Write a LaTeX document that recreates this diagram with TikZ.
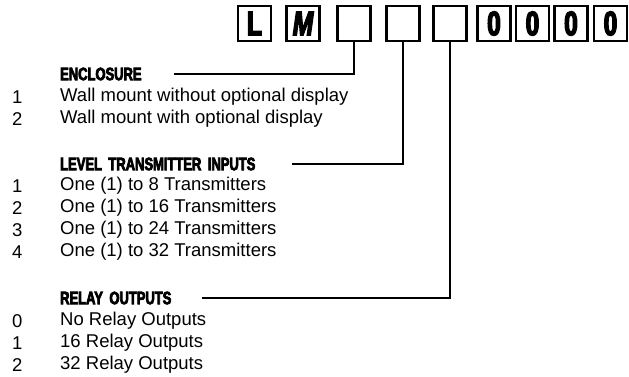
\documentclass[tikz,border=0pt]{standalone}
\usepackage{fontspec}
\setmainfont{Liberation Sans}
\newfontfamily\titfont[FakeStretch=0.72,FakeBold=4]{Liberation Sans}
\newcommand\titletra{\titfont\bfseries\fontsize{18}{20}\selectfont\spaceskip=6.5pt\relax}

\tikzset{
  caja/.style={draw,line width=2.4pt,minimum width=33pt,minimum height=35pt,inner sep=0pt,
    font=\titfont\bfseries\fontsize{34}{34}\selectfont},
  titulo/.style={anchor=west,inner sep=0pt,font=\titletra},
  num/.style={anchor=west,inner sep=0pt,font=\fontsize{18.5}{22}\selectfont},
  texto/.style={anchor=west,inner sep=0pt,font=\fontsize{18.5}{22}\selectfont},
  linea/.style={line width=2.2pt}
}

\begin{document}
\begin{tikzpicture}[x=1pt,y=-1pt]
		\useasboundingbox (0,0) rectangle (629,377);
		
		% Casillas del codigo
		\node[caja] (l) at (254.5,23.5) {L};
		\node[caja] (m) at (303,23.5) {\itshape M};
		\node[caja] (c1) at (354,23.5) {};
		\node[caja] (c2) at (403,23.5) {};
		\node[caja] (c3) at (450,23.5) {};
		\node[caja] (z1) at (494,23.5) {0};
		\node[caja] (z2) at (532.5,23.5) {0};
		\node[caja] (z3) at (571,23.5) {0};
		\node[caja] (z4) at (610.5,23.5) {0};
		
		% Encerramiento
		\node[titulo] (enc) at (60,74) {ENCLOSURE};
		\node[num] (e1) at (12,97) {1};
		\node[texto] (t1) at (60,97) {Wall mount without optional display};
		\node[num] (e2) at (12,119) {2};
		\node[texto] (t2) at (60,119) {Wall mount with optional display};
		
		% Entradas
		\node[titulo] (ent) at (60,164) {LEVEL TRANSMITTER INPUTS};
		\node[num] (n1) at (12,186) {1};
		\node[texto] (s1) at (60,186) {One (1) to 8 Transmitters};
		\node[num] (n2) at (12,208) {2};
		\node[texto] (s2) at (60,208) {One (1) to 16 Transmitters};
		\node[num] (n3) at (12,230) {3};
		\node[texto] (s3) at (60,230) {One (1) to 24 Transmitters};
		\node[num] (n4) at (12,252) {4};
		\node[texto] (s4) at (60,252) {One (1) to 32 Transmitters};
		
		% Salidas de rele
		\node[titulo] (sal) at (60,298) {RELAY OUTPUTS};
		\node[num] (r0) at (12,321) {0};
		\node[texto] (q0) at (60,321) {No Relay Outputs};
		\node[num] (r1) at (12,343) {1};
		\node[texto] (q1) at (60,343) {16 Relay Outputs};
		\node[num] (r2) at (12,365) {2};
		\node[texto] (q2) at (60,365) {32 Relay Outputs};
		
		% Lineas
		\draw[linea] (c1.south) |- ([xshift=32pt]enc.east);
		\draw[linea] (c2.south) |- ([xshift=36pt]ent.east);
		\draw[linea] (c3.south) |- ([xshift=30pt]sal.east);
	\end{tikzpicture}
\end{document}
